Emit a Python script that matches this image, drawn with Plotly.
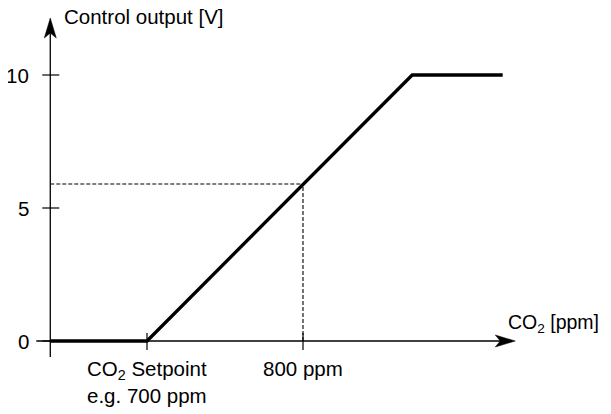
import plotly.graph_objects as go

# ---- data ----
curve_x = [638, 700, 870, 928]          # ppm
curve_y = [0, 0, 10, 10]                # V
setpoint_ppm = 700
marked_ppm = 800
marked_output = 5.9
axis_ppm = 638                          # where the vertical axis sits
y_tick_vals = [0, 5, 10]
y_tick_text = ["0", "5", "10"]
x_tick_vals = [700, 800]
x_tick_text = ["CO<sub>2</sub> Setpoint<br>e.g. 700 ppm", "800 ppm"]
y_title = "Control output [V]"
x_title = "CO<sub>2</sub> [ppm]"

# ---- scales (page body has an 8px margin) ----
W, H = 603, 406
PX_PER_PPM = 1.56
PX_PER_V = 26.6
X0_PX, Y0_PX = 139, 333                 # figure pixel of (700 ppm, 0 V)
x_range = [setpoint_ppm - X0_PX / PX_PER_PPM, setpoint_ppm + (W - X0_PX) / PX_PER_PPM]
y_range = [-(H - Y0_PX) / PX_PER_V, Y0_PX / PX_PER_V]

def dx(px):
    return px / PX_PER_PPM

def dy(px):
    return px / PX_PER_V

FONT = "Liberation Sans, Arial, sans-serif"
FS = 20.5

fig = go.Figure()
fig.add_trace(go.Scatter(x=curve_x, y=curve_y, mode="lines",
                         line=dict(color="black", width=3.3),
                         hoverinfo="skip", showlegend=False))

shapes = []
x_axis_end = axis_ppm + dx(465)
y_axis_end = y_range[1] - dy(10)
shapes.append(dict(type="line", xref="x", yref="y", x0=axis_ppm - dx(14), x1=x_axis_end - dx(4),
                   y0=0, y1=0, line=dict(color="black", width=1.3)))
shapes.append(dict(type="line", xref="x", yref="y", x0=axis_ppm, x1=axis_ppm,
                   y0=-dy(16), y1=y_axis_end - dy(4), line=dict(color="black", width=1.3)))
L, Wd, N = 20, 6, 15
shapes.append(dict(type="path", xref="x", yref="y",
                   path=f"M {x_axis_end},0 L {x_axis_end - dx(L)},{dy(Wd)} L {x_axis_end - dx(N)},0 "
                        f"L {x_axis_end - dx(L)},{-dy(Wd)} Z",
                   fillcolor="black", line=dict(color="black", width=0.5)))
shapes.append(dict(type="path", xref="x", yref="y",
                   path=f"M {axis_ppm},{y_axis_end} L {axis_ppm - dx(Wd)},{y_axis_end - dy(L)} "
                        f"L {axis_ppm},{y_axis_end - dy(N)} L {axis_ppm + dx(Wd)},{y_axis_end - dy(L)} Z",
                   fillcolor="black", line=dict(color="black", width=0.5)))
for v in y_tick_vals:
    shapes.append(dict(type="line", xref="x", yref="y", x0=axis_ppm - dx(8), x1=axis_ppm + dx(9),
                       y0=v, y1=v, line=dict(color="black", width=1.2)))
for v in x_tick_vals:
    shapes.append(dict(type="line", xref="x", yref="y", x0=v, x1=v,
                       y0=-dy(9), y1=dy(8), line=dict(color="black", width=1.2)))
shapes.append(dict(type="line", xref="x", yref="y", x0=axis_ppm, x1=marked_ppm,
                   y0=marked_output, y1=marked_output, line=dict(color="black", width=1.1, dash="4px,2px")))
shapes.append(dict(type="line", xref="x", yref="y", x0=marked_ppm, x1=marked_ppm,
                   y0=0, y1=marked_output, line=dict(color="black", width=1.1, dash="4px,2px")))

annotations = []
for v, t in zip(y_tick_vals, y_tick_text):
    annotations.append(dict(x=axis_ppm - dx(19), y=v, xref="x", yref="y", text=t, showarrow=False,
                            xanchor="right", yanchor="middle", font=dict(size=FS, color="black", family=FONT)))
for v, t in zip(x_tick_vals, x_tick_text):
    annotations.append(dict(x=v, y=-dy(14), xref="x", yref="y", text=t, showarrow=False,
                            xanchor="center", yanchor="top", align="center",
                            font=dict(size=FS, color="black", family=FONT)))
annotations.append(dict(x=axis_ppm + dx(12), y=y_range[1] - dy(8), xref="x", yref="y", text=y_title,
                        showarrow=False, xanchor="left", yanchor="middle",
                        font=dict(size=FS, color="black", family=FONT)))
annotations.append(dict(x=x_axis_end + dx(86), y=dy(18), xref="x", yref="y", text=x_title,
                        showarrow=False, xanchor="right", yanchor="middle",
                        font=dict(size=19.5, color="black", family=FONT)))

fig.update_layout(
    width=W, height=H,
    margin=dict(l=0, r=0, t=0, b=0),
    paper_bgcolor="white", plot_bgcolor="white",
    xaxis=dict(range=x_range, visible=False, fixedrange=True),
    yaxis=dict(range=y_range, visible=False, fixedrange=True),
    shapes=shapes, annotations=annotations, showlegend=False,
)
fig.write_html("out.html")
